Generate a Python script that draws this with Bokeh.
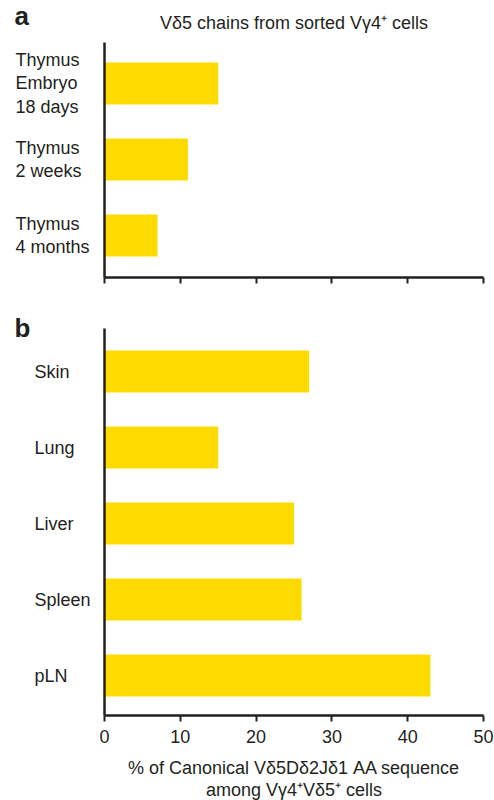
from bokeh.plotting import figure
from bokeh.models import ColumnDataSource, Range1d, FixedTicker, Label
from bokeh.core.properties import value
from bokeh.layouts import column
from bokeh.embed import file_html
from bokeh.resources import INLINE

# ---- data ----
thymus_cats = ["Thymus\nEmbryo\n18 days", "Thymus\n2 weeks", "Thymus\n4 months"]
thymus_vals = [15, 11, 7]
tissue_cats = ["Skin", "Lung", "Liver", "Spleen", "pLN"]
tissue_vals = [27, 15, 25, 26, 43]
x_ticks = [0, 10, 20, 30, 40, 50]
title_a = "V\u03b45 chains from sorted V\u03b34\u207a cells"
x_label = "% of Canonical V\u03b45D\u03b42J\u03b41 AA sequence\namong V\u03b34\u207aV\u03b45\u207a cells"

# ---- layout constants (pixels) ----
FONT = "Liberation Sans"
INK = "#231f20"
BAR = "#fddb00"
W = 494
X0 = 104          # pixel of value 0
PPU = 7.58        # pixels per value unit
ROW = 76          # pixels per category row


def px_x(px):
    return (px - X0) / PPU


def make_fig(cats, vals, height, c0, axis_top, axis_bottom, label_px, letter, letter_base, show_ticks):
    # c0 = canvas pixel (from top) of lowest row centre
    def py(v):
        return (c0 - v) / ROW
    p = figure(width=W, height=height,
               x_range=Range1d(px_x(0), px_x(W)),
               y_range=Range1d(py(height), py(0)),
               output_backend="svg", toolbar_location=None,
               min_border=0, min_border_left=0, min_border_right=0,
               min_border_top=0, min_border_bottom=0)
    n = len(cats)
    rows = list(range(n - 1, -1, -1))
    src = ColumnDataSource(dict(cats=cats, vals=vals, rows=rows))
    p.hbar(y="rows", right="vals", left=0, height=0.55, source=src,
           fill_color=BAR, line_color=None)
    p.text(x=px_x(label_px), y="rows", text="cats", source=src,
           text_font=value(FONT), text_font_size="18px", text_color=INK,
           text_align="left", text_baseline="middle", text_line_height=1.19)
    p.xgrid.visible = False
    p.ygrid.visible = False
    p.outline_line_color = None

    ax = p.xaxis[0]
    ax.fixed_location = py(axis_bottom)
    ax.bounds = (0, 50)
    ax.ticker = FixedTicker(ticks=x_ticks)
    ax.axis_line_width = 2.5
    ax.axis_line_color = INK
    ax.major_tick_line_color = INK
    ax.major_tick_line_width = 2
    ax.major_tick_in = 0
    ax.major_tick_out = 6
    ax.minor_tick_line_color = None
    ax.major_label_text_font = FONT
    ax.major_label_text_font_size = "18px"
    ax.major_label_text_color = INK
    ax.major_label_standoff = 8
    if not show_ticks:
        ax.major_label_overrides = {t: "" for t in x_ticks}

    ay = p.yaxis[0]
    ay.fixed_location = 0
    ay.bounds = (py(axis_bottom), py(axis_top))
    ay.ticker = FixedTicker(ticks=[])
    ay.axis_line_width = 2.5
    ay.axis_line_color = INK
    ay.major_tick_line_color = None
    ay.minor_tick_line_color = None

    p.add_layout(Label(x=px_x(14), y=py(letter_base), text=letter,
                       text_font=FONT, text_font_size="26px", text_font_style="bold",
                       text_color=INK, text_align="left", text_baseline="alphabetic"))
    return p, py


p1, py1 = make_fig(thymus_cats, thymus_vals, 300, 235, 42, 277, 15, "a", 15, False)
p1.add_layout(Label(x=25, y=py1(22), text=title_a, text_font=FONT, text_font_size="18px",
                    text_color=INK, text_align="center", text_baseline="alphabetic"))

p2, py2 = make_fig(tissue_cats, tissue_vals, 500, 375, 28, 415, 34, "b", 27, True)
ax2 = p2.xaxis[0]
ax2.axis_label = x_label
ax2.axis_label_text_font = FONT
ax2.axis_label_text_font_size = "18px"
ax2.axis_label_text_font_style = "normal"
ax2.axis_label_text_color = INK
ax2.axis_label_text_line_height = 1.13
ax2.axis_label_standoff = 12

layout = column(p1, p2)
open("out.html", "w").write(file_html(layout, INLINE))
